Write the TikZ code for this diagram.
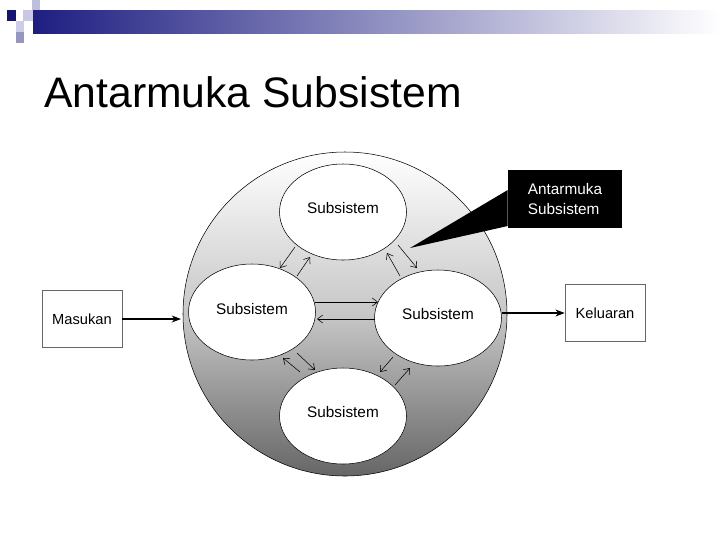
\documentclass[tikz,border=0pt]{standalone}
\usepackage{fontspec}
\setmainfont{Liberation Sans}
\usetikzlibrary{shapes.geometric,arrows.meta}
\definecolor{navyA}{RGB}{30,30,130}
\definecolor{navyB}{RGB}{20,20,120}
\definecolor{midG}{RGB}{160,160,185}
\definecolor{lavA}{RGB}{200,200,230}
\definecolor{lavB}{RGB}{190,190,225}
\definecolor{lavC}{RGB}{205,205,235}
\definecolor{lavD}{RGB}{150,150,195}
\begin{document}
\begin{tikzpicture}[x=0.75pt,y=-0.75pt,
  sub/.style={draw,ellipse,fill=white,minimum width=95.25pt,minimum height=72pt,font=\fontsize{11.5}{13}\selectfont},
  io/.style={draw=black!60,fill=white,minimum width=60pt,minimum height=43pt,font=\fontsize{11}{13}\selectfont},
  ar/.style={-{Straight Barb[length=4pt,width=6pt]},thin}]
\useasboundingbox (0,0) rectangle (720,540);
% header
\shade[left color=navyA,middle color=midG,right color=white] (33,10) rectangle (720,33);
\fill[navyB] (7,10) rectangle (16,21);
\fill[lavA] (23,10) rectangle (33,21);
\fill[lavB] (32,0) rectangle (40,10);
\fill[lavC] (16,21) rectangle (24,32);
\fill[lavD] (16,32) rectangle (24,43);
\node[anchor=base west,inner sep=0,font=\fontsize{32}{38}\selectfont] (title) at (44,107) {Antarmuka Subsistem};
% big circle
\shade[top color=white,bottom color=black!60,middle color=black!22,draw=black] (345,314) circle (162);
\node[sub] (T) at (343,212) {\raisebox{6pt}{Subsistem}};
\node[sub] (L) at (252,312) {\raisebox{5pt}{Subsistem}};
\node[sub] (R) at (438,318) {\raisebox{6pt}{Subsistem}};
\node[sub] (B) at (343,416) {\raisebox{6pt}{Subsistem}};
% interface arrows
\draw[ar] (315,302) -- (378,302);
\draw[ar] (375,319) -- (317,319);
\draw[ar] (295,247) -- (280,268);
\draw[ar] (297,276) -- (310,257);
\draw[ar] (398,245) -- (417,268);
\draw[ar] (400,276) -- (387,253);
\draw[ar] (300,372) -- (283,358);
\draw[ar] (297,353) -- (315,370);
\draw[ar] (393,357) -- (380,372);
\draw[ar] (395,385) -- (410,368);
% callout
\node[fill=black,text=white,minimum width=85.5pt,minimum height=43.5pt,align=left,font=\fontsize{11.5}{15}\selectfont] (call) at (565,199) {Antarmuka\\Subsistem};
\fill[black] (call.west |- 0,190) -- (410,248) -- (call.west |- 0,226) -- cycle;
% io
\node[io] (M) at (82,319) {Masukan};
\node[io] (K) at (605,313) {Keluaran};
\draw[-{Stealth[length=7pt]},thick] (M.east) -- (181,319);
\draw[-{Stealth[length=7pt]},thick] (502,313) -- (K.west);
\end{tikzpicture}
\end{document}
